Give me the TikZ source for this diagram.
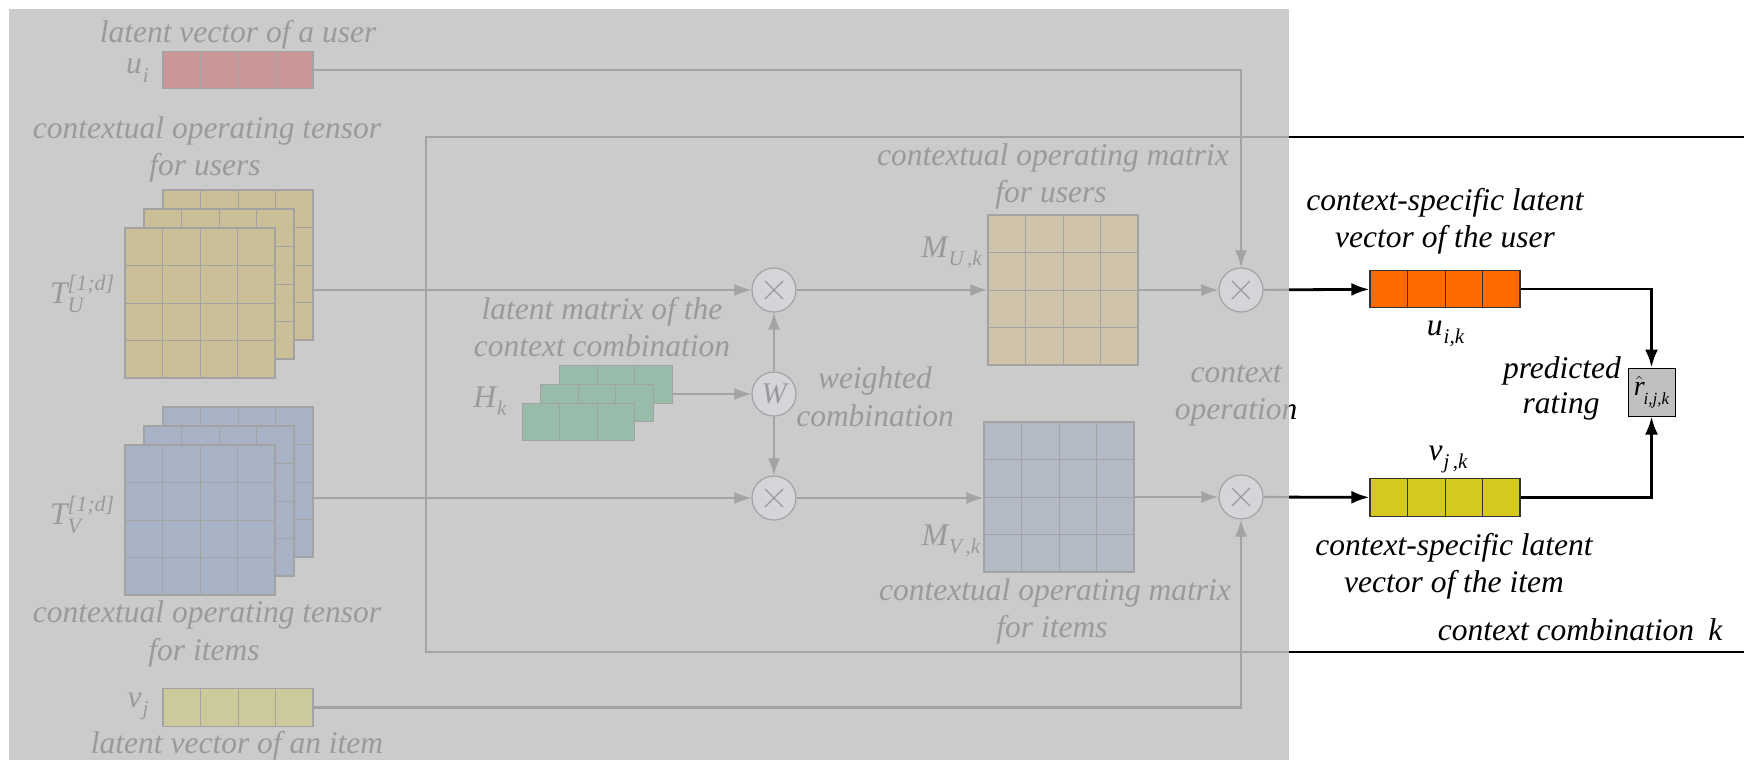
\documentclass[tikz,border=0pt]{standalone}
\usepackage{amsmath}
\usepackage{fontspec}
\setmainfont{Liberation Serif}
\usetikzlibrary{calc,arrows.meta}

\definecolor{panel}{HTML}{CBCBCB}
\definecolor{fadetext}{HTML}{9A9A9A}
\definecolor{fadeline}{HTML}{A3A3A3}
\definecolor{cellpink}{HTML}{C99797}
\definecolor{celltan}{HTML}{CBBF98}
\definecolor{cellbeige}{HTML}{CFC3AA}
\definecolor{cellblue}{HTML}{A7B3C4}
\definecolor{cellslate}{HTML}{B3BAC6}
\definecolor{cellgreen}{HTML}{98BCA9}
\definecolor{cellkhaki}{HTML}{CCCA9A}
\definecolor{opfill}{HTML}{D3D5D9}
\definecolor{vecorange}{HTML}{FF6A00}
\definecolor{vecyellow}{HTML}{D5C91F}
\definecolor{ratingbox}{HTML}{C0C0C0}

% symbol with a lowered italic subscript
\newcommand\lsub[2]{\textit{#1}\kern1pt\raisebox{-0.28em}{\fontsize{21}{21}\selectfont\itshape #2}}

% inner lines of a cell grid, drawn inside the node
\newcommand\drawcellgrid{%
  \pgfmathtruncatemacro\gcm{\gcols-1}%
  \pgfmathtruncatemacro\grm{\grows-1}%
  \ifnum\gcm>0
    \foreach \gi in {1,...,\gcm}{%
      \draw[draw=\gcolor, line width=1pt]
        ($(path picture bounding box.north west)!\gi/\gcols!(path picture bounding box.north east)$) --
        ($(path picture bounding box.south west)!\gi/\gcols!(path picture bounding box.south east)$);
    }%
  \fi
  \ifnum\grm>0
    \foreach \gi in {1,...,\grm}{%
      \draw[draw=\gcolor, line width=1pt]
        ($(path picture bounding box.north west)!\gi/\grows!(path picture bounding box.south west)$) --
        ($(path picture bounding box.north east)!\gi/\grows!(path picture bounding box.south east)$);
    }%
  \fi
}

\begin{document}
\begin{tikzpicture}[x=1pt,y=-1pt,
  lbl/.style={font=\fontsize{31.5}{37}\selectfont\itshape, inner sep=0pt, anchor=base},
  fadelbl/.style={lbl, text=fadetext},
  darklbl/.style={lbl, text=black},
  cellgrid/.style n args={3}{rectangle, inner sep=0pt, draw=#3, line width=1.1pt,
    minimum width={#1*37.5pt}, minimum height={#2*37.5pt},
    /utils/exec={\def\gcols{#1}\def\grows{#2}\def\gcolor{#3}},
    path picture={\drawcellgrid}},
  opnode/.style={circle, draw=fadeline, fill=opfill, line width=1.2pt,
    minimum size=44pt, inner sep=0pt, text=fadetext},
  mulnode/.style={opnode, path picture={
    \draw[fadetext, line width=1.3pt]
      ($(path picture bounding box.center)+(-9pt,-9pt)$) -- ($(path picture bounding box.center)+(9pt,9pt)$)
      ($(path picture bounding box.center)+(-9pt,9pt)$) -- ($(path picture bounding box.center)+(9pt,-9pt)$);}},
  fadewire/.style={draw=fadeline, line width=2.2pt},
  fadearrow/.style={fadewire, -{Latex[length=17pt,width=12pt]}},
  darkwire/.style={draw=black, line width=2.8pt},
  darkarrow/.style={darkwire, -{Latex[length=18pt,width=13pt]}},
]
\useasboundingbox (0,0) rectangle (1744,760);
\fill[white] (0,0) rectangle (1744,760);
\fill[panel] (9,9) rectangle (1289,760);

% frame of one context combination
\coordinate (frtl) at (426,137);
\coordinate (frbl) at (426,652);
\coordinate (frtr) at (1744,137);
\coordinate (frbr) at (1744,652);

% latent vector of the user
\node[cellgrid={4}{1}{fadeline}, fill=cellpink] (ui) at (238,70) {};
\node[fadelbl] (uilbl) at (137.5,74) {\lsub{u}{i}};
\node[fadelbl] (uitxt) at (238,42) {latent vector of a user};

% contextual operating tensor for users
\node[fadelbl] (tutxta) at (207,138) {contextual operating tensor};
\node[fadelbl] (tutxtb) at (205,175) {for users};
\node[cellgrid={4}{4}{fadeline}, fill=celltan] (TUback) at (238,265) {};
\node[cellgrid={4}{4}{fadeline}, fill=celltan] (TUmid) at (219,284) {};
\node[cellgrid={4}{4}{fadeline}, fill=celltan] (TU) at (200,303) {};
\node[fadelbl] (TUlbl) at (82.5,303) {$\textit{T}^{\text{[1;}\textit{d}\text{]}}_{\textit{U}}$};

% contextual operating tensor for items
\node[cellgrid={4}{4}{fadeline}, fill=cellblue] (TVback) at (238,482) {};
\node[cellgrid={4}{4}{fadeline}, fill=cellblue] (TVmid) at (219,501) {};
\node[cellgrid={4}{4}{fadeline}, fill=cellblue] (TV) at (200,520) {};
\node[fadelbl] (TVlbl) at (82.5,524) {$\textit{T}^{\text{[1;}\textit{d}\text{]}}_{\textit{V}}$};
\node[fadelbl] (tvtxta) at (207,622) {contextual operating tensor};
\node[fadelbl] (tvtxtb) at (204,660) {for items};

% latent vector of the item
\node[cellgrid={4}{1}{fadeline}, fill=cellkhaki] (vj) at (238,707.5) {};
\node[fadelbl] (vjlbl) at (138,707) {\lsub{v}{j}};
\node[fadelbl] (vjtxt) at (237,753) {latent vector of an item};

% latent matrix of the context combination
\node[fadelbl] (hktxta) at (602,319) {latent matrix of the};
\node[fadelbl] (hktxtb) at (602,356) {context combination};
\node[cellgrid={3}{1}{fadeline}, fill=cellgreen] (Hback) at (616,384.5) {};
\node[cellgrid={3}{1}{fadeline}, fill=cellgreen] (Hmid) at (597,403) {};
\node[cellgrid={3}{1}{fadeline}, fill=cellgreen] (H) at (578.5,422) {};
\node[fadelbl] (Hlbl) at (490,407) {\lsub{H}{k}};

% weighted combination
\node[mulnode] (mulU) at (774,290) {};
\node[opnode, font=\fontsize{30}{30}\selectfont\itshape] (W) at (774,394) {W};
\node[mulnode] (mulV) at (774,498) {};
\node[fadelbl] (wtxta) at (875,388) {weighted};
\node[fadelbl] (wtxtb) at (875,426) {combination};

% contextual operating matrices
\node[fadelbl] (mutxta) at (1053,165) {contextual operating matrix};
\node[fadelbl] (mutxtb) at (1051,202) {for users};
\node[cellgrid={4}{4}{fadeline}, fill=cellbeige] (MU) at (1063,290) {};
\node[fadelbl] (MUlbl) at (951.5,257) {\lsub{M}{U\,,k}};
\node[cellgrid={4}{4}{fadeline}, fill=cellslate] (MV) at (1059,497) {};
\node[fadelbl] (MVlbl) at (951,545) {\lsub{M}{V\,,k}};
\node[fadelbl] (mvtxta) at (1055,600) {contextual operating matrix};
\node[fadelbl] (mvtxtb) at (1052,637) {for items};

% context operation
\node[mulnode] (mulUo) at (1241,290) {};
\node[mulnode] (mulVo) at (1241,497) {};

% context-specific latent vectors
\node[cellgrid={4}{1}{black!80}, fill=vecorange] (uik) at (1445,289) {};
\node[darklbl] (uiktxta) at (1445,210) {context-specific latent};
\node[darklbl] (uiktxtb) at (1445,247) {vector of the user};
\node[darklbl] (uiklbl) at (1445.5,335) {\lsub{u}{i,k}};
\node[cellgrid={4}{1}{black!80}, fill=vecyellow] (vjk) at (1445,497.5) {};
\node[darklbl] (vjklbl) at (1448,460) {\lsub{v}{j\,,k}};
\node[darklbl] (vjktxta) at (1454,555) {context-specific latent};
\node[darklbl] (vjktxtb) at (1454,592) {vector of the item};

% predicted rating
\node[rectangle, draw=black, line width=1pt, fill=ratingbox, minimum width=47pt,
  minimum height=48pt, inner sep=0pt] (r) at (1651.5,392) {};
\node[inner sep=0pt, font=\fontsize{28}{28}\selectfont] (rlbl) at (1651.5,392)
  {$\hat{\textit{r}}$\kern-1pt\raisebox{-0.3em}{\fontsize{17}{17}\selectfont\itshape i,j,k}};
\node[darklbl] (prtxta) at (1562,378) {predicted};
\node[darklbl] (prtxtb) at (1561,413) {rating};
\node[darklbl] (cctxt) at (1580,640) {context combination\hspace{0.45em}\textit{k}};

% faded connectors
\draw[fadearrow] (ui.east) -| (mulUo.north);
\draw[fadearrow] (TUback.east |- mulU) -- (mulU);
\draw[fadearrow] (Hback.east |- W) -- (W);
\draw[fadearrow] (W) -- (mulU);
\draw[fadearrow] (W) -- (mulV);
\draw[fadearrow] (TVback.east |- mulV) -- (mulV);
\draw[fadearrow] (mulU) -- (mulU -| MU.west);
\draw[fadearrow] (MU.east |- mulUo) -- (mulUo);
\draw[fadearrow] (mulV) -- (mulV -| MV.west);
\draw[fadearrow] (MV.east |- mulVo) -- (mulVo);
\draw[fadearrow] (vj.east) -| (mulVo.south);

% pieces inside the faded panel
\begin{scope}
  \clip (0,0) rectangle (1289,760);
  \draw[fadewire] (frtr) -- (frtl) -- (frbl) -- (frbr);
  \draw[fadewire] (mulUo) -- (uik);
  \draw[fadewire] (mulVo) -- (vjk);
  \node[fadelbl] (optxta) at (1236,382) {context};
  \node[fadelbl] (optxtb) at (1236,419) {operation};
\end{scope}
% the same pieces outside the panel
\begin{scope}
  \clip (1289,0) rectangle (1744,760);
  \draw[darkwire] (frtr) -- (frtl) -- (frbl) -- (frbr);
  \draw[darkarrow] (mulUo) -- (uik);
  \draw[darkarrow] (mulVo) -- (vjk);
  \node[darklbl] (optxtc) at (1236,419) {operation};
\end{scope}

% connectors to the predicted rating
\draw[darkarrow] (uik.east) -| (r.north);
\draw[darkarrow] (vjk.east) -| (r.south);
\end{tikzpicture}
\end{document}
